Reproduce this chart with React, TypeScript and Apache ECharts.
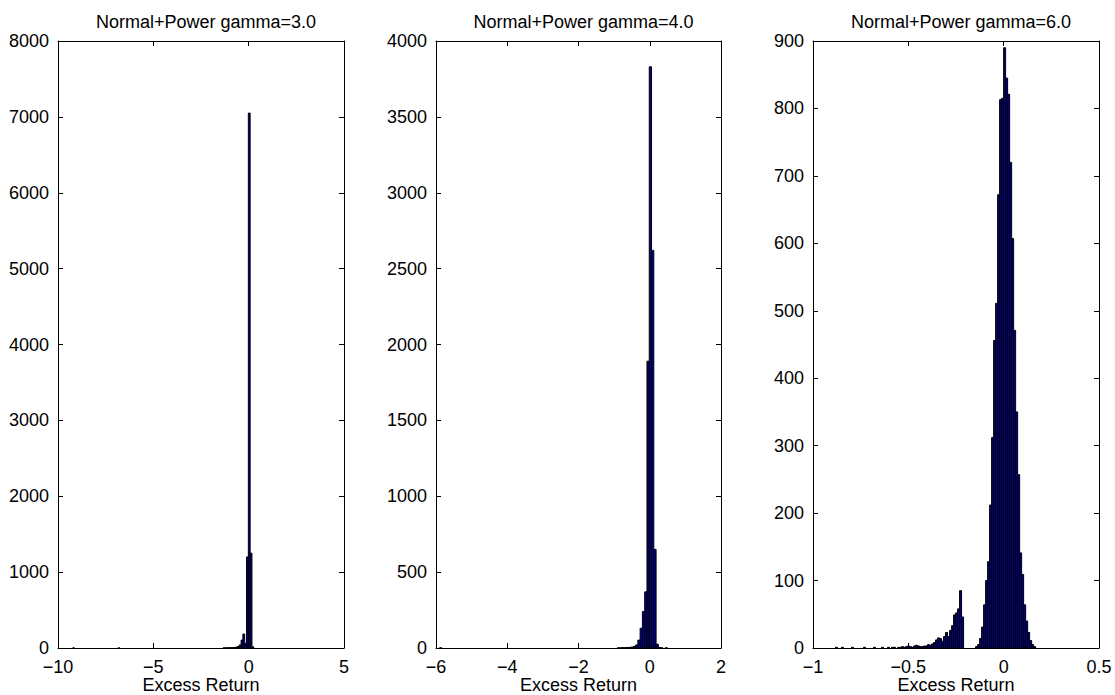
import React, { useEffect, useRef } from 'react';
import * as echarts from 'echarts';

const TITLES = ['Normal+Power gamma=3.0', 'Normal+Power gamma=4.0', 'Normal+Power gamma=6.0'];
const X_NAME = 'Excess Return';

// x axis ranges / tick steps
const X_MIN = [-10, -6, -1];
const X_MAX = [5, 2, 0.5];
const X_STEP = [5, 2, 0.5];
// y axis ranges / tick steps
const Y_MAX = [8000, 4000, 900];
const Y_STEP = [1000, 500, 100];

// Panel 1 (gamma=3.0): visible histogram bins
const P1_BIN_WIDTH = 0.095;
const P1_CENTERS = [-9.185, -6.81, -1.3, -1.205, -1.11, -1.015, -0.92, -0.825, -0.73, -0.635, -0.54, -0.445, -0.35, -0.255, -0.16, -0.065, 0.03, 0.125, 0.22];
const P1_COUNTS = [1, 1, 1, 2, 2, 3, 4, 6, 8, 12, 20, 40, 105, 184, 60, 1200, 7050, 1250, 15];

// Panel 2 (gamma=4.0): visible histogram bins
const P2_BIN_WIDTH = 0.064;
const P2_CENTERS = [-5.87, -0.878, -0.814, -0.75, -0.686, -0.622, -0.558, -0.494, -0.43, -0.366, -0.302, -0.238, -0.174, -0.11, -0.046, 0.018, 0.082, 0.146, 0.21, 0.274, 0.338, 0.466];
const P2_COUNTS = [1, 1, 1, 2, 2, 3, 4, 6, 10, 20, 52, 130, 240, 370, 1890, 3830, 2620, 650, 25, 4, 1, 1];

// Panel 3 (gamma=6.0): all 100 histogram bins
const P3_BIN_WIDTH = 0.0105;
const P3_FIRST_CENTER = -0.877;
const P3_COUNTS = [
  1, 0, 0, 1, 0, 0, 0, 0, 1, 0,
  0, 0, 0, 0, 1, 0, 0, 0, 0, 1,
  0, 0, 0, 1, 0, 0, 1, 0, 1, 1,
  0, 1, 1, 2, 1, 2, 3, 2, 1, 3,
  4, 3, 2, 2, 3, 3, 5, 4, 6, 8,
  12, 15, 14, 10, 17, 23, 17, 26, 33, 49,
  52, 58, 85, 46, 0, 0, 0, 0, 0, 0,
  2, 5, 14, 31, 64, 100, 128, 212, 312, 456,
  511, 672, 813, 815, 890, 845, 821, 720, 607, 471,
  350, 257, 141, 109, 64, 40, 23, 11, 5, 2,
];
const P3_CENTERS = P3_COUNTS.map((_, i) => P3_FIRST_CENTER + i * P3_BIN_WIDTH);

const PANELS = [
  { centers: P1_CENTERS, counts: P1_COUNTS, width: P1_BIN_WIDTH },
  { centers: P2_CENTERS, counts: P2_COUNTS, width: P2_BIN_WIDTH },
  { centers: P3_CENTERS, counts: P3_COUNTS, width: P3_BIN_WIDTH },
];

const FONT = '"Liberation Sans", Arial, Helvetica, sans-serif';
const GRID_LEFT = [58, 436, 813];
const GRID_WIDTH = [286, 285, 286];
const GRID_TOP = 41;
const GRID_HEIGHT = 607;

const fmt = (v: number) => String(v).replace('-', '\u2212');

export default function App() {
  const ref = useRef<HTMLDivElement>(null);
  useEffect(() => {
    if (!ref.current) return;
    const chart = echarts.init(ref.current, undefined, { renderer: 'svg' });
    const grids: any[] = [];
    const xAxes: any[] = [];
    const yAxes: any[] = [];
    const series: any[] = [];
    const titles: any[] = [];
    const lineStyle = { color: '#000', width: 1 };
    PANELS.forEach((p, i) => {
      grids.push({
        left: GRID_LEFT[i], width: GRID_WIDTH[i], top: GRID_TOP, height: GRID_HEIGHT,
        containLabel: false, outerBoundsMode: 'none',
      });
      titles.push({
        text: TITLES[i],
        left: GRID_LEFT[i] + GRID_WIDTH[i] / 2,
        top: 8,
        textAlign: 'center',
        textStyle: { fontFamily: FONT, fontSize: 18, fontWeight: 'normal', color: '#000' },
      });
      const xCommon = {
        type: 'value', gridIndex: i, min: X_MIN[i], max: X_MAX[i], interval: X_STEP[i],
        splitLine: { show: false },
        axisLine: { show: true, onZero: false, lineStyle },
        axisTick: { show: true, inside: true, length: 5, lineStyle },
      };
      xAxes.push({
        ...xCommon, position: 'bottom',
        axisLabel: { show: true, margin: 10, fontFamily: FONT, fontSize: 18, color: '#000', formatter: fmt },
        name: X_NAME, nameLocation: 'middle', nameGap: 28, nameMoveOverlap: false,
        nameTextStyle: { fontFamily: FONT, fontSize: 18, color: '#000' },
      });
      xAxes.push({ ...xCommon, position: 'top', axisLabel: { show: false } });
      const yCommon = {
        type: 'value', gridIndex: i, min: 0, max: Y_MAX[i], interval: Y_STEP[i],
        splitLine: { show: false },
        axisLine: { show: true, onZero: false, lineStyle },
        axisTick: { show: true, inside: true, length: 5, lineStyle },
      };
      yAxes.push({
        ...yCommon, position: 'left',
        axisLabel: { show: true, margin: 9, fontFamily: FONT, fontSize: 18, color: '#000', formatter: fmt },
      });
      yAxes.push({ ...yCommon, position: 'right', axisLabel: { show: false } });
      const w = p.width;
      series.push({
        type: 'custom',
        xAxisIndex: i * 2,
        yAxisIndex: i * 2,
        clip: true,
        data: p.centers.map((c, k) => [c, p.counts[k]]),
        renderItem: (_params: any, api: any) => {
          const c = api.value(0);
          const v = api.value(1);
          if (!v) return null;
          const a = api.coord([c - w / 2, 0]);
          const b = api.coord([c + w / 2, v]);
          return {
            type: 'rect',
            shape: { x: a[0], y: b[1], width: b[0] - a[0], height: a[1] - b[1] },
            style: { fill: '#00008f', stroke: '#000', lineWidth: 1 },
          };
        },
      });
    });
    chart.setOption({
      animation: false,
      backgroundColor: '#fff',
      title: titles,
      grid: grids,
      xAxis: xAxes,
      yAxis: yAxes,
      series,
    });
    return () => chart.dispose();
  }, []);
  return <div ref={ref} style={{ position: 'fixed', left: 0, top: 0, width: 1115, height: 695 }} />;
}
